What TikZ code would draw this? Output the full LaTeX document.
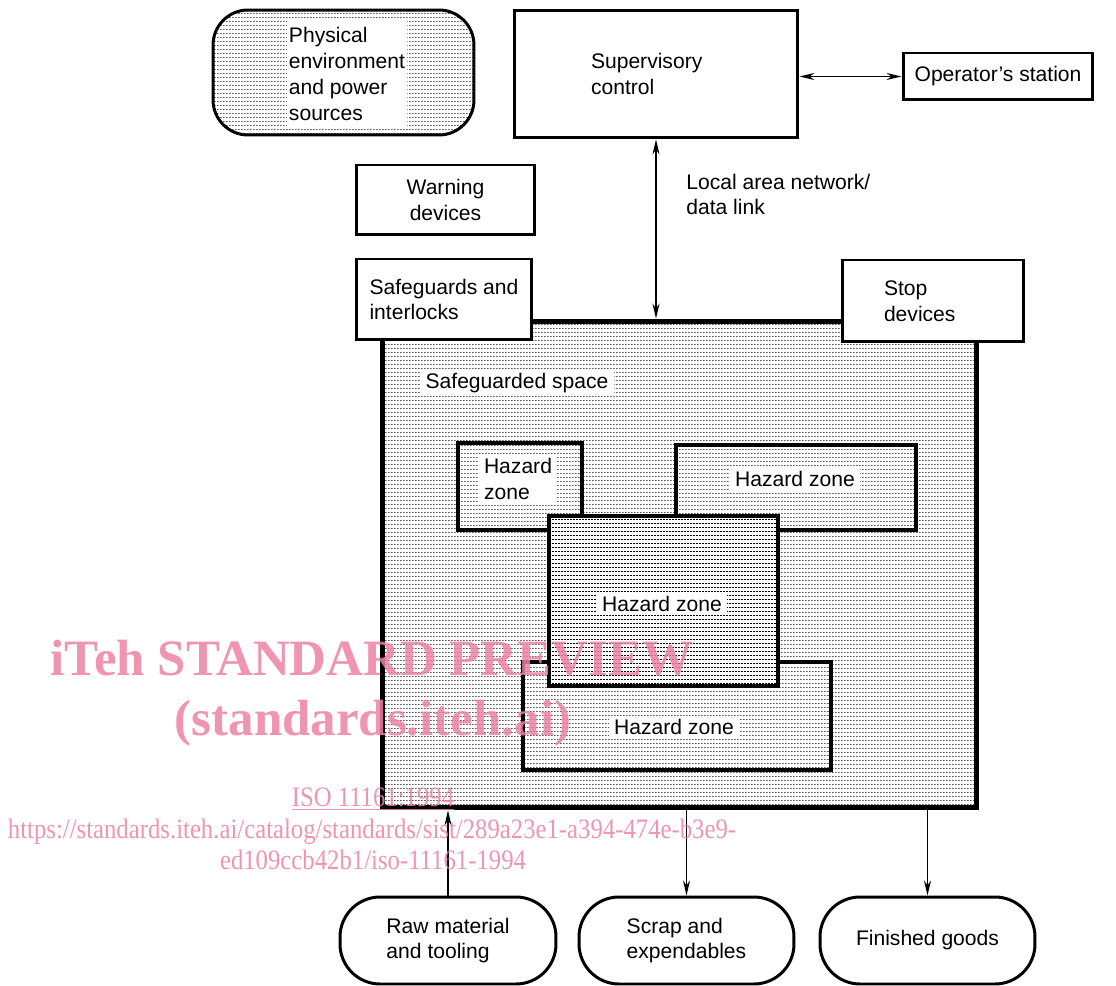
\documentclass[tikz,border=0pt]{standalone}
\usepackage{fontspec}
\setmainfont{Liberation Sans}
\newfontfamily\wmfont{Liberation Serif}
\usetikzlibrary{arrows.meta,patterns.meta}

\tikzdeclarepattern{
  name=dashrows, type=uncolored,
  bottom left={(0pt,0pt)}, top right={(1.8pt,2.3pt)},
  tile size={(1.8pt,2.3pt)},
  code={\fill (0pt,0pt) rectangle (1.1pt,0.5pt);}
}
\tikzdeclarepattern{
  name=dashrowsdense, type=uncolored,
  bottom left={(0pt,0pt)}, top right={(1.7pt,2pt)},
  tile size={(1.7pt,2pt)},
  code={\fill (0pt,0pt) rectangle (1.1pt,0.55pt);}
}
\definecolor{wmpink}{RGB}{236,130,163}

\begin{document}
\begin{tikzpicture}[x=0.02cm,y=-0.02cm]
\tikzset{box/.style={draw, line width=1.7pt, fill=white, inner sep=0pt, align=left, font=\fontsize{12}{14.7}\selectfont},
  pill/.style={box, rounded corners=0.8cm},
  zone/.style={draw, line width=1.8pt, preaction={fill=white}, pattern=dashrows},
  lbl/.style={fill=white, inner xsep=3pt, inner ysep=2pt, align=left, font=\fontsize{12}{14.7}\selectfont},
  link/.style={line width=0.8pt, >={Stealth[length=3mm,width=1.4mm]}},
  wm/.style={text=wmpink, opacity=0.85, inner sep=0pt, anchor=base}}
\useasboundingbox (0,0) rectangle (1116,986);

% safeguarded space and hazard zones
\node[draw, line width=2.8pt, minimum width=11.9cm, minimum height=9.74cm, pattern=dashrows] (space) at (679.5,564.5) {};
\node[lbl, anchor=west] (spacelbl) at (420,383) {Safeguarded space};
\node[zone, minimum width=2.48cm, minimum height=1.74cm] (hz1) at (520,486.5) {};
\node[zone, minimum width=4.8cm, minimum height=1.7cm] (hz2) at (796,487.5) {};
\node[zone, minimum width=6.16cm, minimum height=2.16cm] (hz4) at (677,716) {};
\node[zone, pattern=dashrowsdense, minimum width=4.58cm, minimum height=3.4cm] (hz3) at (663.5,601) {};
\node[lbl] (hz1lbl) at (518,479) {Hazard\\zone};
\node[lbl] (hz2lbl) at (795,479) {Hazard zone};
\node[lbl] (hz3lbl) at (662,604) {Hazard zone};
\node[lbl] (hz4lbl) at (674,727) {Hazard zone};

% boxes round the space
\node[box, rounded corners=0.7cm, preaction={fill=white}, pattern=dashrows, minimum width=5.22cm, minimum height=2.5cm] (phys) at (343.5,72.5) {};
\node[lbl, inner xsep=1pt, inner ysep=5pt] (physlbl) at (347,74) {Physical\\environment\\and power\\sources};
\node[box, text width=2.6cm, inner xsep=1.54cm, minimum height=2.56cm] (sup) at (656,74) {Supervisory\\control};
\node[box, align=center, minimum width=3.8cm, minimum height=0.94cm] (op) at (998,76.5) {Operator's station};
\node[box, align=center, minimum width=3.58cm, minimum height=1.4cm] (warn) at (445.5,200) {Warning\\devices};
\node[lbl, fill=none, inner sep=0pt, anchor=west] (lanlbl) at (686,194.5) {Local area network/\\data link};
\node[box, minimum width=3.52cm, minimum height=1.62cm] (guard) at (444,299.5) {Safeguards and\\interlocks};
\node[box, text width=1.96cm, inner xsep=0.84cm, minimum height=1.64cm] (stop) at (933,301) {Stop\\devices};

% material flow
\node[pill, minimum width=4.32cm, minimum height=1.74cm] (raw) at (448,940.5) {Raw material\\and tooling};
\node[pill, minimum width=4.3cm, minimum height=1.74cm] (scrap) at (686.5,940.5) {Scrap and\\expendables};
\node[pill, align=center, minimum width=4.3cm, minimum height=1.74cm] (goods) at (927.5,940.5) {Finished goods};

\draw[link, <->] (op.west -| sup.east) -- (op.west);
\draw[link, <->] (sup.south) -- (sup.south |- space.north);
\draw[link, ->] (raw.north) -- (raw.north |- space.south);
\draw[link, ->] (scrap.north |- space.south) -- (scrap.north);
\draw[link, ->] (goods.north |- space.south) -- (goods.north);

% watermark
\node[wm, font=\wmfont\bfseries\fontsize{29}{29}\selectfont] (wmtitle) at (372,675) {iTeh STANDARD PREVIEW};
\node[wm, font=\wmfont\bfseries\fontsize{29}{29}\selectfont] (wmsite) at (373,735) {(standards.iteh.ai)};
\node[wm, font=\wmfont\fontsize{16}{16}\selectfont, xscale=0.88] (wmiso) at (373,806) {\underline{ISO 11161:1994}};
\node[wm, font=\wmfont\fontsize{16}{16}\selectfont, xscale=0.88] (wmurl) at (372,838) {https://standards.iteh.ai/catalog/standards/sist/289a23e1-a394-474e-b3e9-};
\node[wm, font=\wmfont\fontsize{16}{16}\selectfont, xscale=0.88] (wmurlb) at (373,869) {ed109ccb42b1/iso-11161-1994};
\end{tikzpicture}
\end{document}
